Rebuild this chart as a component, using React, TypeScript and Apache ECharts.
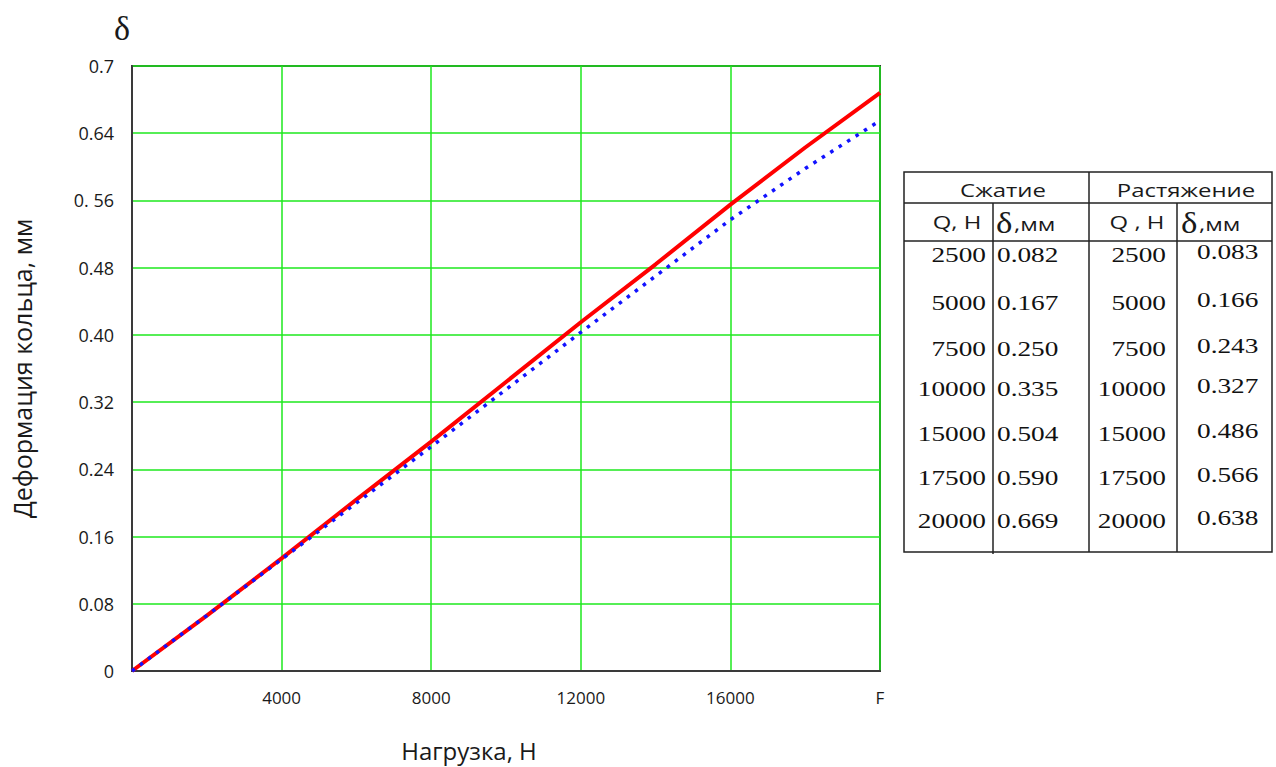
import React, { useEffect, useRef } from 'react';
import * as echarts from 'echarts';

// ---- data ----
const loadX = [0, 2000, 4000, 6000, 8000, 10000, 12000, 14000, 16000, 18000, 20000];
const compressionCurve = [0, 0.066, 0.134, 0.204, 0.273, 0.344, 0.415, 0.484, 0.555, 0.623, 0.688];
const tensionCurve = [0, 0.066, 0.133, 0.2, 0.267, 0.335, 0.403, 0.47, 0.537, 0.598, 0.655];

// ---- table ----
const tableQ = ['2500', '5000', '7500', '10000', '15000', '17500', '20000'];
const tableCompression = ['0.082', '0.167', '0.250', '0.335', '0.504', '0.590', '0.669'];
const tableTension = ['0.083', '0.166', '0.243', '0.327', '0.486', '0.566', '0.638'];

// ---- tick labels ----
const yTickLabels = ['0', '0.08', '0.16', '0.24', '0.32', '0.40', '0.48', '0. 56', '0.64', '0.7'];
const xTickLabels = ['', '4000', '8000', '12000', '16000', 'F'];

const headerCompression = 'Сжатие';
const headerTension = 'Растяжение';
const xAxisTitle = 'Нагрузка, Н';
const yAxisTitle = 'Деформация кольца, мм';

export default function App() {
  const ref = useRef<HTMLDivElement>(null);

  useEffect(() => {
    if (!ref.current) return;
    const chart = echarts.init(ref.current, undefined, { renderer: 'svg' });

    const textColor = '#1a1a1a';
    const lineColor = '#222';
    const sx = 1.33;
    const numScale = 1.3;

    const rowY = [255, 303, 349, 389, 434, 478, 521];
    const tensionDY = -3;

    const tableGraphics: any[] = [];
    tableGraphics.push({
      type: 'rect',
      shape: { x: 904, y: 172, width: 368, height: 380 },
      style: { fill: 'none', stroke: lineColor, lineWidth: 1.5 },
    });
    const hline = (x1: number, x2: number, y: number) => ({
      type: 'line',
      shape: { x1, y1: y, x2, y2: y },
      style: { stroke: lineColor, lineWidth: 1.5 },
    });
    const vline = (x: number, y1: number, y2: number) => ({
      type: 'line',
      shape: { x1: x, y1, x2: x, y2 },
      style: { stroke: lineColor, lineWidth: 1.5 },
    });
    tableGraphics.push(hline(904, 1272, 203));
    tableGraphics.push(hline(904, 1272, 241));
    tableGraphics.push(vline(1089, 172, 552));
    tableGraphics.push(vline(993, 203, 554));
    tableGraphics.push(vline(1177, 203, 552));

    const sansText = (text: string, x: number, y: number, align: string = 'center') => ({
      type: 'text',
      x,
      y,
      scaleX: sx,
      style: {
        text,
        font: '18px "Open Sans"',
        fill: textColor,
        textAlign: align,
        textVerticalAlign: 'middle',
      },
    });
    const serifText = (text: string, x: number, y: number, align: string) => ({
      type: 'text',
      x,
      y,
      scaleX: numScale,
      style: {
        text,
        font: '21px "Liberation Serif"',
        fill: '#111',
        textAlign: align,
        textVerticalAlign: 'middle',
      },
    });

    tableGraphics.push(sansText(headerCompression, 1003, 190));
    tableGraphics.push(sansText(headerTension, 1186, 190));
    tableGraphics.push(sansText('Q, H', 957, 222));
    tableGraphics.push(sansText('Q , H', 1137, 222));
    const deltaHead = (x: number) => ({
      type: 'group',
      children: [
        {
          type: 'text',
          x,
          y: 223,
          scaleX: 1.2,
          style: {
            text: 'δ',
            font: '29px "Liberation Serif"',
            fill: textColor,
            textAlign: 'left',
            textVerticalAlign: 'middle',
          },
        },
        {
          type: 'text',
          x: x + 18,
          y: 224,
          scaleX: sx,
          style: {
            text: ',мм',
            font: '18px "Open Sans"',
            fill: textColor,
            textAlign: 'left',
            textVerticalAlign: 'middle',
          },
        },
      ],
    });
    tableGraphics.push(deltaHead(996));
    tableGraphics.push(deltaHead(1181));

    tableQ.forEach((q, i) => {
      tableGraphics.push(serifText(q, 986, rowY[i], 'right'));
      tableGraphics.push(serifText(tableCompression[i], 997, rowY[i], 'left'));
      tableGraphics.push(serifText(q, 1166, rowY[i], 'right'));
      tableGraphics.push(serifText(tableTension[i], 1197, rowY[i] + tensionDY, 'left'));
    });

    const option: any = {
      animation: false,
      backgroundColor: '#ffffff',
      grid: {
        left: 132,
        right: 396,
        top: 66,
        bottom: 96,
        show: true,
        borderColor: '#333',
        borderWidth: 2,
        containLabel: false,
        outerBoundsMode: 'none',
      },
      xAxis: {
        type: 'value',
        min: 0,
        max: 20000,
        interval: 4000,
        axisLine: { show: true, onZero: false, lineStyle: { color: '#3a3a3a', width: 2 } },
        axisTick: { show: false },
        splitLine: { show: true, lineStyle: { color: '#1ee81e', width: 1.5 } },
        axisLabel: {
          color: textColor,
          fontFamily: 'Open Sans',
          fontSize: 17,
          margin: 18,
          showMinLabel: true,
          showMaxLabel: true,
          formatter: (v: number) => xTickLabels[Math.round(v / 4000)] ?? '',
        },
      },
      yAxis: {
        type: 'value',
        min: 0,
        max: 0.72,
        interval: 0.08,
        axisLine: { show: true, lineStyle: { color: '#3a3a3a', width: 2 } },
        axisTick: { show: false },
        splitLine: { show: true, lineStyle: { color: '#1ee81e', width: 1.5 } },
        axisLabel: {
          color: textColor,
          fontFamily: 'Open Sans',
          fontSize: 18,
          margin: 18,
          showMinLabel: true,
          showMaxLabel: true,
          formatter: (v: number) => yTickLabels[Math.round(v / 0.08)] ?? '',
        },
        name: yAxisTitle,
        nameLocation: 'middle',
        nameGap: 98,
        nameRotate: 90,
        nameTextStyle: { color: textColor, fontFamily: 'Open Sans', fontSize: 25 },
      },
      series: [
        {
          name: 'Сжатие',
          type: 'line',
          data: loadX.map((x, i) => [x, compressionCurve[i]]),
          showSymbol: false,
          lineStyle: { color: '#ff0000', width: 4 },
          z: 2,
        },
        {
          name: 'Растяжение',
          type: 'line',
          data: loadX.map((x, i) => [x, tensionCurve[i]]),
          showSymbol: false,
          lineStyle: { color: '#1212ff', width: 3.5, type: [3.5, 6.5] },
          z: 3,
        },
      ],
      graphic: [
        {
          type: 'text',
          x: 122,
          y: 28,
          style: {
            text: 'δ',
            font: '34px "Liberation Serif"',
            fill: textColor,
            textAlign: 'center',
            textVerticalAlign: 'middle',
          },
        },
        {
          type: 'text',
          x: 469,
          y: 750,
          style: {
            text: xAxisTitle,
            font: '24px "Open Sans"',
            fill: textColor,
            textAlign: 'center',
            textVerticalAlign: 'middle',
          },
        },
        ...tableGraphics,
      ],
    };

    chart.setOption(option);
    return () => chart.dispose();
  }, []);

  return (
    <div
      ref={ref}
      style={{ position: 'absolute', left: 0, top: 0, width: 1276, height: 767 }}
    />
  );
}
